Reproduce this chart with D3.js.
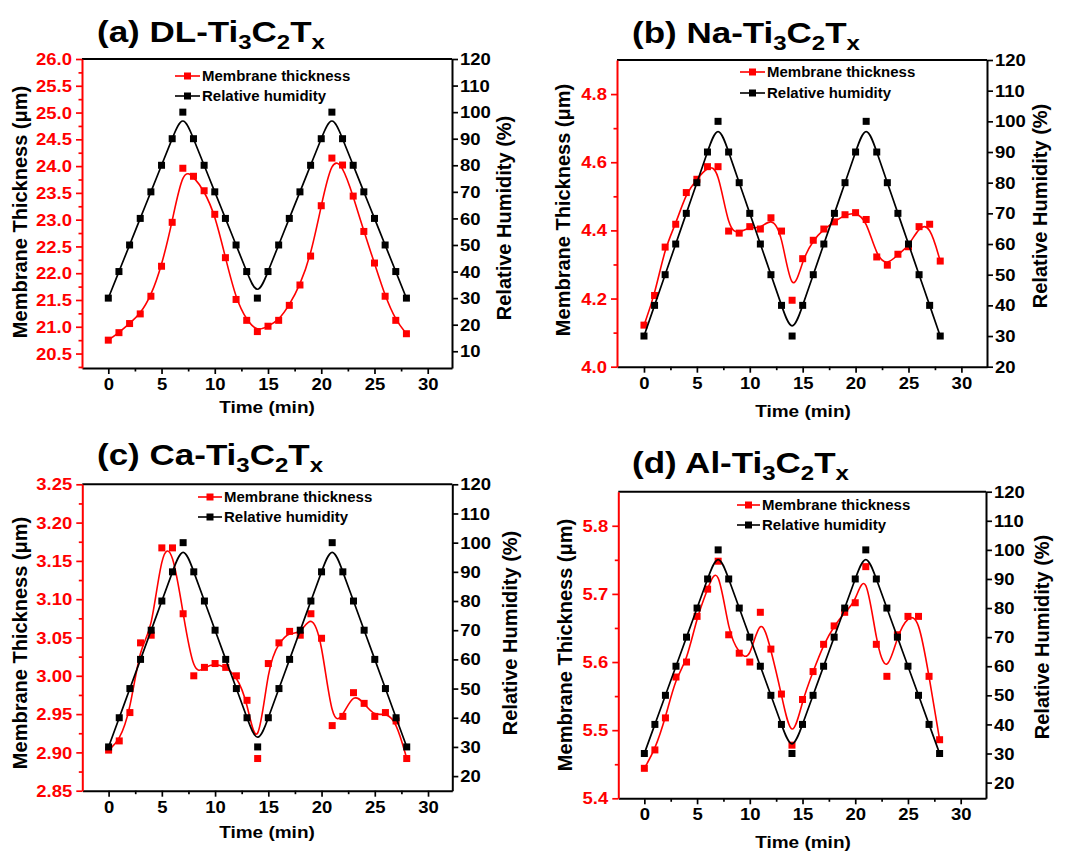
<!DOCTYPE html>
<html>
<head>
<meta charset="utf-8">
<script src="https://cdn.jsdelivr.net/npm/d3@7"></script>
<style>
  html, body { margin: 0; padding: 0; background: #fff; }
  svg { display: block; font-family: "Liberation Sans", Arial, sans-serif; font-weight: bold; }
</style>
</head>
<body>
<svg id="chart" width="1070" height="851"></svg>
<script>
// ---------------- DATA ----------------
const timeMin = [0,1,2,3,4,5,6,7,8,9,10,11,12,13,14,15,16,17,18,19,20,21,22,23,24,25,26,27,28];
const humidity = [30,40,50,60,70,80,90,100,90,80,70,60,50,40,30,40,50,60,70,80,90,100,90,80,70,60,50,40,30];

const thicknessDL = [20.75,20.89,21.06,21.24,21.57,22.13,22.95,23.96,23.81,23.54,23.10,22.29,21.51,21.12,20.91,21.01,21.12,21.40,21.78,22.32,23.26,24.15,24.02,23.44,22.78,22.19,21.57,21.12,20.87];
const thicknessNa = [4.122,4.209,4.351,4.418,4.511,4.550,4.587,4.587,4.398,4.392,4.411,4.404,4.437,4.398,4.195,4.317,4.371,4.404,4.425,4.446,4.452,4.432,4.322,4.298,4.330,4.352,4.411,4.418,4.310];
const thicknessCa = [2.903,2.915,2.952,3.043,3.053,3.167,3.167,3.081,3.000,3.011,3.016,3.011,3.000,2.968,2.892,3.016,3.043,3.058,3.053,3.081,3.049,2.935,2.947,2.978,2.964,2.947,2.952,2.941,2.892];
const thicknessAl = [5.444,5.471,5.518,5.578,5.600,5.667,5.707,5.748,5.640,5.613,5.600,5.673,5.619,5.553,5.478,5.545,5.586,5.626,5.653,5.673,5.687,5.740,5.626,5.579,5.640,5.667,5.667,5.579,5.486];

const panelLetters = ["(a) ", "(b) ", "(c) ", "(d) "];
const panelPrefixes = ["DL-Ti", "Na-Ti", "Ca-Ti", "Al-Ti"];

const xTicks = [0,5,10,15,20,25,30];
const xMinorTicks = [2.5,7.5,12.5,17.5,22.5,27.5];

const leftTicksA = [20.5,21.0,21.5,22.0,22.5,23.0,23.5,24.0,24.5,25.0,25.5,26.0];
const leftMinorA = [20.25,20.75,21.25,21.75,22.25,22.75,23.25,23.75,24.25,24.75,25.25,25.75];
const leftTicksB = [4.0,4.2,4.4,4.6,4.8];
const leftMinorB = [4.1,4.3,4.5,4.7];
const leftTicksC = [2.85,2.90,2.95,3.00,3.05,3.10,3.15,3.20,3.25];
const leftMinorC = [2.875,2.925,2.975,3.025,3.075,3.125,3.175,3.225];
const leftTicksD = [5.4,5.5,5.6,5.7,5.8];
const leftMinorD = [5.45,5.55,5.65,5.75];

const rightTicksA = [10,20,30,40,50,60,70,80,90,100,110,120];
const rightTicksBCD = [20,30,40,50,60,70,80,90,100,110,120];

const legendLabels = ["Membrane thickness", "Relative humidity"];
const xTitle = "Time (min)";
const yLeftTitle = "Membrane Thickness (\u03bcm)";
const yRightTitle = "Relative Humidity (%)";

// ---------------- LAYOUT ----------------
const RED = "#ff0000", BLACK = "#000000";
const panels = [
  { thick: thicknessDL, left: 82, right: 452, top: 59, bottom: 368,
    xDomain: [-2.47, 32.28], yL: [20.23, 26.0], yR: [3.7, 120],
    lt: leftTicksA, lm: leftMinorA, fmt: ".1f", rt: rightTicksA,
    title: [97, 42], leg: [175, 200, 202, 76, 96],
    yLT: [20, 212], yRT: [504, 218], xT: [267, 413] },
  { thick: thicknessNa, left: 617, right: 987, top: 60, bottom: 366.7,
    xDomain: [-2.55, 32.42], yL: [4.0, 4.9], yR: [20, 120],
    lt: leftTicksB, lm: leftMinorB, fmt: ".1f", rt: rightTicksBCD,
    title: [632, 43], leg: [740, 765, 767, 72, 93],
    yLT: [563, 210], yRT: [1040, 206], xT: [803, 417] },
  { thick: thicknessCa, left: 82.3, right: 452.3, top: 484.3, bottom: 790.7,
    xDomain: [-2.47, 32.28], yL: [2.85, 3.25], yR: [15, 120],
    lt: leftTicksC, lm: leftMinorC, fmt: ".2f", rt: rightTicksBCD,
    title: [97, 465], leg: [198, 222, 224, 497, 517],
    yLT: [20, 643], yRT: [510, 633], xT: [267, 838] },
  { thick: thicknessAl, left: 618.3, right: 986, top: 491.7, bottom: 798.3,
    xDomain: [-2.47, 32.4], yL: [5.4, 5.85], yR: [14.6, 120],
    lt: leftTicksD, lm: leftMinorD, fmt: ".1f", rt: rightTicksBCD,
    title: [632, 473], leg: [737, 760, 762, 505, 525],
    yLT: [565, 645], yRT: [1042, 637], xT: [803, 848] }
];

const TICK_FS = 18.5, TICK_SY = 0.85;
const svg = d3.select("#chart");
svg.append("rect").attr("width", 1070).attr("height", 851).attr("fill", "#fff");

function styleAxis(sel, color, width) {
  sel.select(".domain").attr("stroke", color).attr("stroke-width", width);
  sel.selectAll(".tick line").attr("stroke", color).attr("stroke-width", 1.7);
}

function drawPanel(p, i) {
  const g = svg.append("g");
  const x = d3.scaleLinear().domain(p.xDomain).range([p.left, p.right]);
  const yL = d3.scaleLinear().domain(p.yL).range([p.bottom, p.top]);
  const yR = d3.scaleLinear().domain(p.yR).range([p.bottom, p.top]);

  // top frame line
  g.append("line").attr("x1", p.left).attr("x2", p.right).attr("y1", p.top).attr("y2", p.top)
    .attr("stroke", BLACK).attr("stroke-width", 2);

  // bottom axis
  const xa = g.append("g").attr("transform", `translate(0,${p.bottom})`)
    .call(d3.axisBottom(x).tickValues(xTicks).tickSize(6).tickSizeOuter(0).tickFormat(d3.format("d")));
  styleAxis(xa, BLACK, 2);
  xa.selectAll("text").attr("y", null).attr("dy", null)
    .attr("transform", `translate(0,22) scale(1,${TICK_SY})`)
    .attr("font-size", TICK_FS).attr("font-family", "Liberation Sans, Arial, sans-serif")
    .attr("font-weight", "bold").attr("fill", BLACK);
  const xm = g.append("g").attr("transform", `translate(0,${p.bottom})`)
    .call(d3.axisBottom(x).tickValues(xMinorTicks).tickSize(3.5).tickSizeOuter(0).tickFormat(""));
  xm.select(".domain").remove();
  xm.selectAll(".tick line").attr("stroke", BLACK).attr("stroke-width", 1.7);

  // left axis (red)
  const la = g.append("g").attr("transform", `translate(${p.left},0)`)
    .call(d3.axisLeft(yL).tickValues(p.lt).tickSize(6).tickSizeOuter(0).tickFormat(d3.format(p.fmt)));
  styleAxis(la, RED, 2);
  la.selectAll("text").attr("x", null).attr("dy", null)
    .attr("transform", `translate(-10,5.6) scale(1,${TICK_SY})`)
    .attr("font-size", TICK_FS).attr("font-family", "Liberation Sans, Arial, sans-serif")
    .attr("font-weight", "bold").attr("fill", RED);
  const lm = g.append("g").attr("transform", `translate(${p.left},0)`)
    .call(d3.axisLeft(yL).tickValues(p.lm).tickSize(3.5).tickSizeOuter(0).tickFormat(""));
  lm.select(".domain").remove();
  lm.selectAll(".tick line").attr("stroke", RED).attr("stroke-width", 1.7);

  // right axis (black)
  const ra = g.append("g").attr("transform", `translate(${p.right},0)`)
    .call(d3.axisRight(yR).tickValues(p.rt).tickSize(6).tickSizeOuter(0).tickFormat(d3.format("d")));
  styleAxis(ra, BLACK, 2);
  ra.selectAll("text").attr("x", null).attr("dy", null)
    .attr("transform", `translate(8,5.6) scale(1,${TICK_SY})`)
    .attr("font-size", TICK_FS).attr("font-family", "Liberation Sans, Arial, sans-serif")
    .attr("font-weight", "bold").attr("fill", BLACK);

  // data: thickness (red) first, then humidity (black)
  const redData = timeMin.map((t, k) => [t, p.thick[k]]);
  const blkData = timeMin.map((t, k) => [t, humidity[k]]);
  const lineL = d3.line().x(d => x(d[0])).y(d => yL(d[1])).curve(d3.curveBasis);
  const lineR = d3.line().x(d => x(d[0])).y(d => yR(d[1])).curve(d3.curveBasis);
  const ms = 7;

  g.append("path").datum(redData).attr("d", lineL).attr("fill", "none")
    .attr("stroke", RED).attr("stroke-width", 1.6);
  g.selectAll(".mr").data(redData).enter().append("rect")
    .attr("x", d => x(d[0]) - ms / 2).attr("y", d => yL(d[1]) - ms / 2)
    .attr("width", ms).attr("height", ms).attr("fill", RED);

  g.append("path").datum(blkData).attr("d", lineR).attr("fill", "none")
    .attr("stroke", BLACK).attr("stroke-width", 1.7);
  g.selectAll(".mb").data(blkData).enter().append("rect")
    .attr("x", d => x(d[0]) - ms / 2).attr("y", d => yR(d[1]) - ms / 2)
    .attr("width", ms).attr("height", ms).attr("fill", BLACK);

  // legend
  const [lx1, lx2, tx, ly1, ly2] = p.leg;
  [[ly1, RED, legendLabels[0]], [ly2, BLACK, legendLabels[1]]].forEach(([ly, col, lab]) => {
    g.append("line").attr("x1", lx1).attr("x2", lx2).attr("y1", ly).attr("y2", ly)
      .attr("stroke", col).attr("stroke-width", 1.6);
    g.append("rect").attr("x", (lx1 + lx2) / 2 - 3.5).attr("y", ly - 3.5)
      .attr("width", 7).attr("height", 7).attr("fill", col);
    g.append("text").attr("transform", `translate(${tx},${ly + 5.3}) scale(1,0.97)`)
      .attr("font-size", 15).attr("fill", BLACK).text(lab);
  });

  // axis titles
  g.append("text").attr("transform", `translate(${p.xT[0]},${p.xT[1]}) scale(1,0.88)`)
    .attr("text-anchor", "middle").attr("font-size", 19).attr("fill", BLACK).text(xTitle);
  g.append("text").attr("transform", `translate(${p.yLT[0] + 7},${p.yLT[1]}) rotate(-90)`)
    .attr("text-anchor", "middle").attr("font-size", 20).attr("fill", BLACK).text(yLeftTitle);
  g.append("text").attr("transform", `translate(${p.yRT[0] + 7},${p.yRT[1]}) rotate(-90)`)
    .attr("text-anchor", "middle").attr("font-size", 20).attr("fill", BLACK).text(yRightTitle);

  // panel title with subscripts
  const tt = g.append("text").attr("transform", `translate(${p.title[0]},${p.title[1]}) scale(1,0.82)`)
    .attr("font-size", 35).attr("fill", BLACK);
  tt.append("tspan").text(panelLetters[i] + panelPrefixes[i]);
  tt.append("tspan").attr("font-size", 24).attr("dy", 9).text("3");
  tt.append("tspan").attr("dy", -9).text("C");
  tt.append("tspan").attr("font-size", 24).attr("dy", 9).text("2");
  tt.append("tspan").attr("dy", -9).text("T");
  tt.append("tspan").attr("font-size", 24).attr("dy", 9).text("x");
}

panels.forEach(drawPanel);
</script>
</body>
</html>
